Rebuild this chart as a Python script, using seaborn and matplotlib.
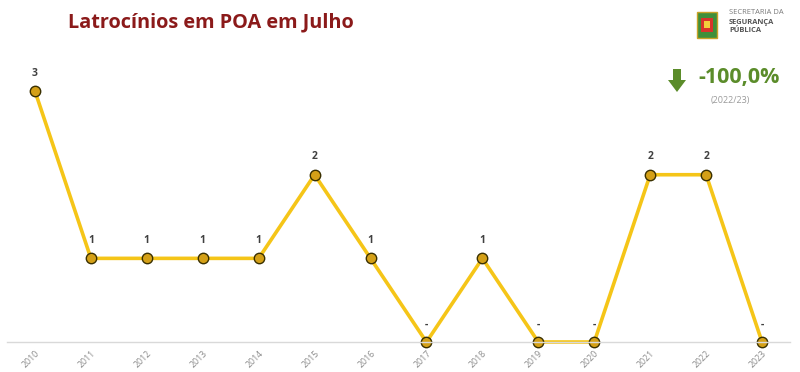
import matplotlib
matplotlib.use("Agg")
import matplotlib.pyplot as plt
import seaborn as sns
import pandas as pd
from matplotlib.patches import Rectangle, Polygon

years = ["2010", "2011", "2012", "2013", "2014", "2015", "2016",
         "2017", "2018", "2019", "2020", "2021", "2022", "2023"]
values = [3, 1, 1, 1, 1, 2, 1, 0, 1, 0, 0, 2, 2, 0]
labels = [str(v) if v != 0 else "-" for v in values]

sns.set_theme(style="white")
plt.rcParams['font.family'] = ['Open Sans', 'DejaVu Sans']

df = pd.DataFrame({"x": list(range(len(years))), "year": years, "value": values})

fig = plt.figure(figsize=(8, 3.72), dpi=100)
ax = fig.add_axes([7/800, 30/372, 783/800, (342-66)/372])

sns.lineplot(data=df, x="x", y="value", ax=ax, color="#F5C518", linewidth=2.6,
             marker="o", markersize=7.5, markerfacecolor="#D4A017",
             markeredgecolor="#3a3000", markeredgewidth=1.0)

for xi, v, lab in zip(df["x"], values, labels):
    ax.annotate(lab, (xi, v), xytext=(0, 9), textcoords="offset points",
                ha="center", va="bottom", fontsize=7.5, fontweight="bold",
                color="#404040")

ax.set_xlim(-0.5, len(years) - 0.5)
ax.set_ylim(0, 3.3)
ax.set_xticks(df["x"])
ax.set_xticklabels(years, rotation=45, fontsize=6.3, color="#8a8a8a",
                   ha="right", rotation_mode="anchor")
ax.tick_params(axis="x", length=0, pad=5)
ax.set_yticks([])
ax.set_xlabel("")
ax.set_ylabel("")
for s in ["top", "right", "left"]:
    ax.spines[s].set_visible(False)
ax.spines["bottom"].set_color("#d9d9d9")
ax.spines["bottom"].set_linewidth(1)
for ln in ax.lines:
    ln.set_clip_on(False)

fig.text(68/800, 1 - 22/372, "Latrocínios em POA em Julho", fontsize=14.3,
         fontweight="bold", color="#8B1A1A", ha="left", va="center")

# header logo text
fig.text(729/800, 1 - 13/372, "SECRETARIA DA", fontsize=5.4, color="#7a7a7a",
         ha="left", va="center")
fig.text(729/800, 1 - 22/372, "SEGURANÇA", fontsize=5.4, color="#555555",
         fontweight="bold", ha="left", va="center")
fig.text(729/800, 1 - 31/372, "PÚBLICA", fontsize=5.4, color="#555555",
         fontweight="bold", ha="left", va="center")
# simple emblem
fig.patches.append(Rectangle((697/800, 1 - 38/372), 20/800, 26/372,
                             transform=fig.transFigure, facecolor="#3f8f3a",
                             edgecolor="#c9a227", linewidth=1))
fig.patches.append(Rectangle((701/800, 1 - 32/372), 12/800, 14/372,
                             transform=fig.transFigure, facecolor="#d8342b",
                             edgecolor="none"))
fig.patches.append(Rectangle((704/800, 1 - 28/372), 6/800, 7/372,
                             transform=fig.transFigure, facecolor="#f2d03b",
                             edgecolor="none"))

# variation indicator (down arrow)
fig.patches.append(Polygon([(668/800, 1 - 80/372), (686/800, 1 - 80/372),
                            (677/800, 1 - 92/372)], closed=True,
                           transform=fig.transFigure, facecolor="#5B8C2A",
                           edgecolor="none"))
fig.patches.append(Rectangle((673/800, 1 - 81/372), 8/800, 12/372,
                             transform=fig.transFigure, facecolor="#5B8C2A",
                             edgecolor="none"))
fig.text(739/800, 1 - 78/372, "-100,0%", fontsize=15.5, fontweight="bold",
         color="#5B8C2A", ha="center", va="center")
fig.text(730/800, 1 - 101/372, "(2022/23)", fontsize=6.5, color="#9a9a9a",
         ha="center", va="center")

fig.savefig("out.png", dpi=100, facecolor="white")
